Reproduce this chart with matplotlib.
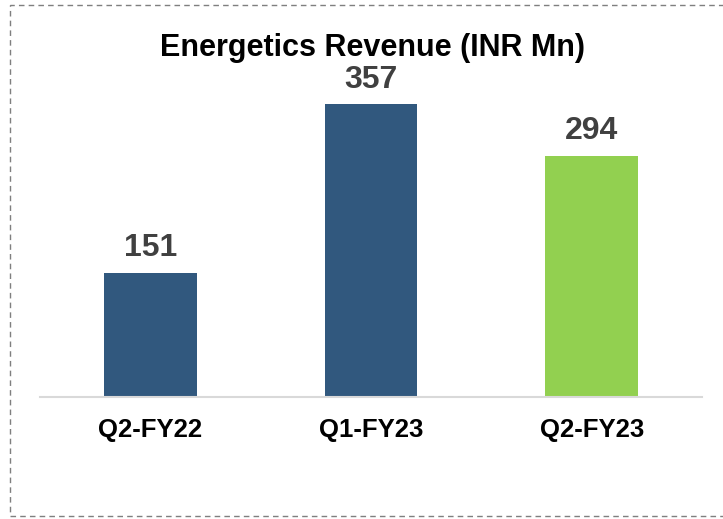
import matplotlib
matplotlib.use("Agg")
import matplotlib.pyplot as plt
from matplotlib.patches import Rectangle

plt.rcParams['font.family'] = ['Liberation Sans', 'DejaVu Sans']

# chart data
categories = ['Q2-FY22', 'Q1-FY23', 'Q2-FY23']
revenue = [151, 357, 294]
bar_colors = ['#31587E', '#31587E', '#92D050']

fig = plt.figure(figsize=(7.23, 5.19), dpi=100)
ax = fig.add_axes([0.0553, 0.235, 0.9157, 0.711])

x = range(len(categories))
bars = ax.bar(x, revenue, width=0.42, color=bar_colors)

# value labels above bars
for b, v in zip(bars, revenue):
	ax.annotate(str(v), (b.get_x() + b.get_width() / 2, v), xytext=(0, 7),
				textcoords='offset points', ha='center', va='bottom',
				fontsize=23, fontweight='bold', color='#404040')

ax.set_xlim(-0.5, 2.5)
ax.set_ylim(0, 450)
ax.set_xticks(list(x))
ax.set_xticklabels(categories, fontsize=18.5, fontweight='bold', color='black')
ax.tick_params(axis='x', length=0, pad=15)
ax.set_yticks([])
for s in ['top', 'right', 'left']:
	ax.spines[s].set_visible(False)
ax.spines['bottom'].set_color('#d9d9d9')
ax.spines['bottom'].set_linewidth(1.5)

fig.text(0.515, 0.908, 'Energetics Revenue (INR Mn)', ha='center', va='center',
		 fontsize=22, fontweight='bold', color='black')

# dashed frame around the chart
frame = Rectangle((10 / 723, 3 / 519), 720 / 723, 511 / 519, transform=fig.transFigure,
				  fill=False, edgecolor='#7f7f7f', linewidth=1.0, linestyle=(0, (4, 3)))
fig.patches.append(frame)

fig.savefig('out.png', dpi=100)
